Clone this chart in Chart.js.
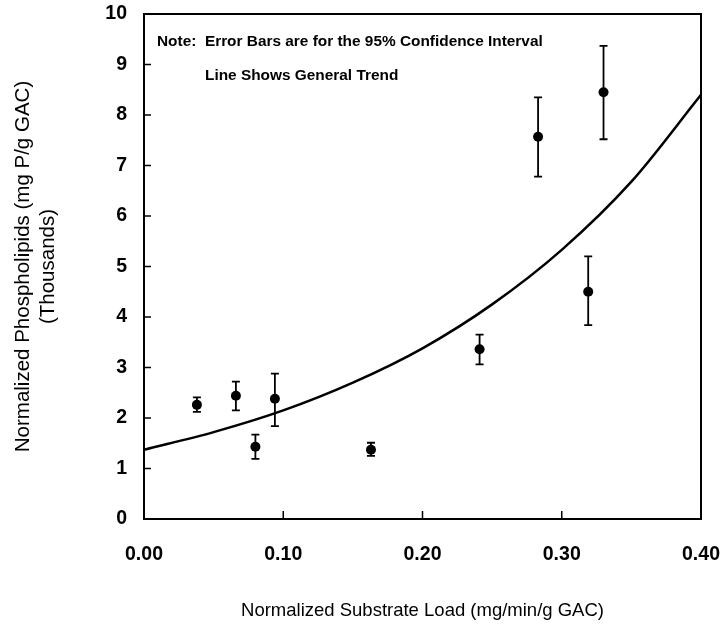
<!DOCTYPE html>
<html>
<head>
<meta charset="utf-8">
<script src="https://cdn.jsdelivr.net/npm/chart.js@4.4.0/dist/chart.umd.min.js"></script>
<style>
  html, body { margin: 0; padding: 0; background: #fff; }
  #wrap { width: 724px; height: 631px; }
</style>
</head>
<body>
<div id="wrap"><canvas id="chart" width="724" height="631"></canvas></div>
<script>
// Measured points (x = substrate load, y = phospholipids in thousands)
const loadX   = [0.038, 0.066, 0.080, 0.094, 0.163, 0.241, 0.283, 0.319, 0.330];
const phosY   = [2.26, 2.44, 1.43, 2.38, 1.37, 3.36, 7.57, 4.50, 8.45];
const errLow  = [2.12, 2.15, 1.19, 1.84, 1.25, 3.06, 6.78, 3.84, 7.52];
const errHigh = [2.41, 2.72, 1.67, 2.88, 1.51, 3.65, 8.35, 5.20, 9.37];

// General trend line
const trendX = [0.00, 0.05, 0.10, 0.15, 0.20, 0.25, 0.30, 0.35, 0.40];
const trendY = [1.37, 1.72, 2.15, 2.70, 3.38, 4.25, 5.33, 6.68, 8.40];

const xTicks = [0.00, 0.10, 0.20, 0.30, 0.40];
const yTicks = [0, 1, 2, 3, 4, 5, 6, 7, 8, 9, 10];

const noteLines = ['Note:  Error Bars are for the 95% Confidence Interval', 'Line Shows General Trend'];

const FONT = '"Liberation Sans", Arial, Helvetica, sans-serif';

// keep the label overhang from shrinking the plot box
const noEdgePadding = axis => {
    axis.paddingTop = 0;
    axis.paddingBottom = 0;
    axis.paddingLeft = 0;
    axis.paddingRight = 0;
};

// error bars, inward ticks, frame and the note
const decorPlugin = {
    id: 'decor',
    beforeDatasetsDraw(chart) {
        const { ctx, scales: { x, y } } = chart;
        ctx.save();
        ctx.strokeStyle = '#000';
        ctx.lineWidth = 1.8;
        loadX.forEach((v, i) => {
            const px = x.getPixelForValue(v);
            const top = y.getPixelForValue(errHigh[i]);
            const bot = y.getPixelForValue(errLow[i]);
            ctx.beginPath();
            ctx.moveTo(px, top); ctx.lineTo(px, bot);
            ctx.moveTo(px - 4, top); ctx.lineTo(px + 4, top);
            ctx.moveTo(px - 4, bot); ctx.lineTo(px + 4, bot);
            ctx.stroke();
        });
        ctx.restore();
    },
    afterDraw(chart) {
        const { ctx, chartArea: a, scales: { x, y } } = chart;
        ctx.save();
        ctx.strokeStyle = '#000';
        ctx.lineWidth = 2;
        ctx.beginPath();
        ctx.rect(a.left, a.top, a.right - a.left, a.bottom - a.top);
        ctx.stroke();

        ctx.lineWidth = 1.5;
        ctx.beginPath();
        xTicks.slice(1, -1).forEach(v => {
            const px = x.getPixelForValue(v);
            ctx.moveTo(px, a.bottom); ctx.lineTo(px, a.bottom - 8);
        });
        yTicks.slice(1, -1).forEach(v => {
            const py = y.getPixelForValue(v);
            ctx.moveTo(a.left, py); ctx.lineTo(a.left + 7, py);
        });
        ctx.stroke();

        ctx.fillStyle = '#000';
        ctx.font = 'bold 15.4px ' + FONT;
        ctx.textBaseline = 'middle';
        ctx.textAlign = 'left';
        ctx.fillText(noteLines[0], a.left + 13, a.top + 28);
        ctx.fillText(noteLines[1], a.left + 61, a.top + 62);
        ctx.restore();
    }
};

new Chart(document.getElementById('chart'), {
    type: 'scatter',
    data: {
        datasets: [{
            label: 'Phospholipids',
            data: loadX.map((v, i) => ({ x: v, y: phosY[i] })),
            pointRadius: 5,
            pointBackgroundColor: '#000',
            pointBorderColor: '#000',
            pointBorderWidth: 0,
            showLine: false
        }, {
            type: 'line',
            label: 'Trend',
            data: trendX.map((v, i) => ({ x: v, y: trendY[i] })),
            borderColor: '#000',
            borderWidth: 2.5,
            pointRadius: 0,
            cubicInterpolationMode: 'monotone',
            fill: false
        }]
    },
    options: {
        responsive: false,
        animation: false,
        layout: { padding: { left: 0, right: 23, top: 14, bottom: 0 } },
        plugins: { legend: { display: false }, tooltip: { enabled: false } },
        scales: {
            x: {
                type: 'linear',
                min: 0,
                max: 0.4,
                afterBuildTicks: axis => { axis.ticks = xTicks.map(v => ({ value: v })); },
                afterFit: axis => { axis.height = 112; noEdgePadding(axis); },
                grid: { display: false, drawTicks: false },
                border: { display: false },
                ticks: {
                    padding: 24,
                    color: '#000',
                    font: { family: FONT, size: 19.5, weight: 'bold' },
                    callback: v => v.toFixed(2)
                },
                title: {
                    display: true,
                    text: 'Normalized Substrate Load (mg/min/g GAC)',
                    color: '#000',
                    font: { family: FONT, size: 18.5 },
                    padding: { top: 0, bottom: 9 }
                }
            },
            y: {
                min: 0,
                max: 10,
                afterBuildTicks: axis => { axis.ticks = yTicks.map(v => ({ value: v })); },
                afterFit: axis => { axis.width = 144; noEdgePadding(axis); },
                grid: { display: false, drawTicks: false },
                border: { display: false },
                ticks: {
                    padding: 17,
                    color: '#000',
                    font: { family: FONT, size: 19.5, weight: 'bold' }
                },
                title: {
                    display: true,
                    text: ['Normalized Phospholipids (mg P/g GAC)', '(Thousands)'],
                    color: '#000',
                    font: { family: FONT, size: 20.5, lineHeight: 1.22 },
                    padding: { top: 10.5, bottom: 0 }
                }
            }
        }
    },
    plugins: [decorPlugin]
});
</script>
</body>
</html>
